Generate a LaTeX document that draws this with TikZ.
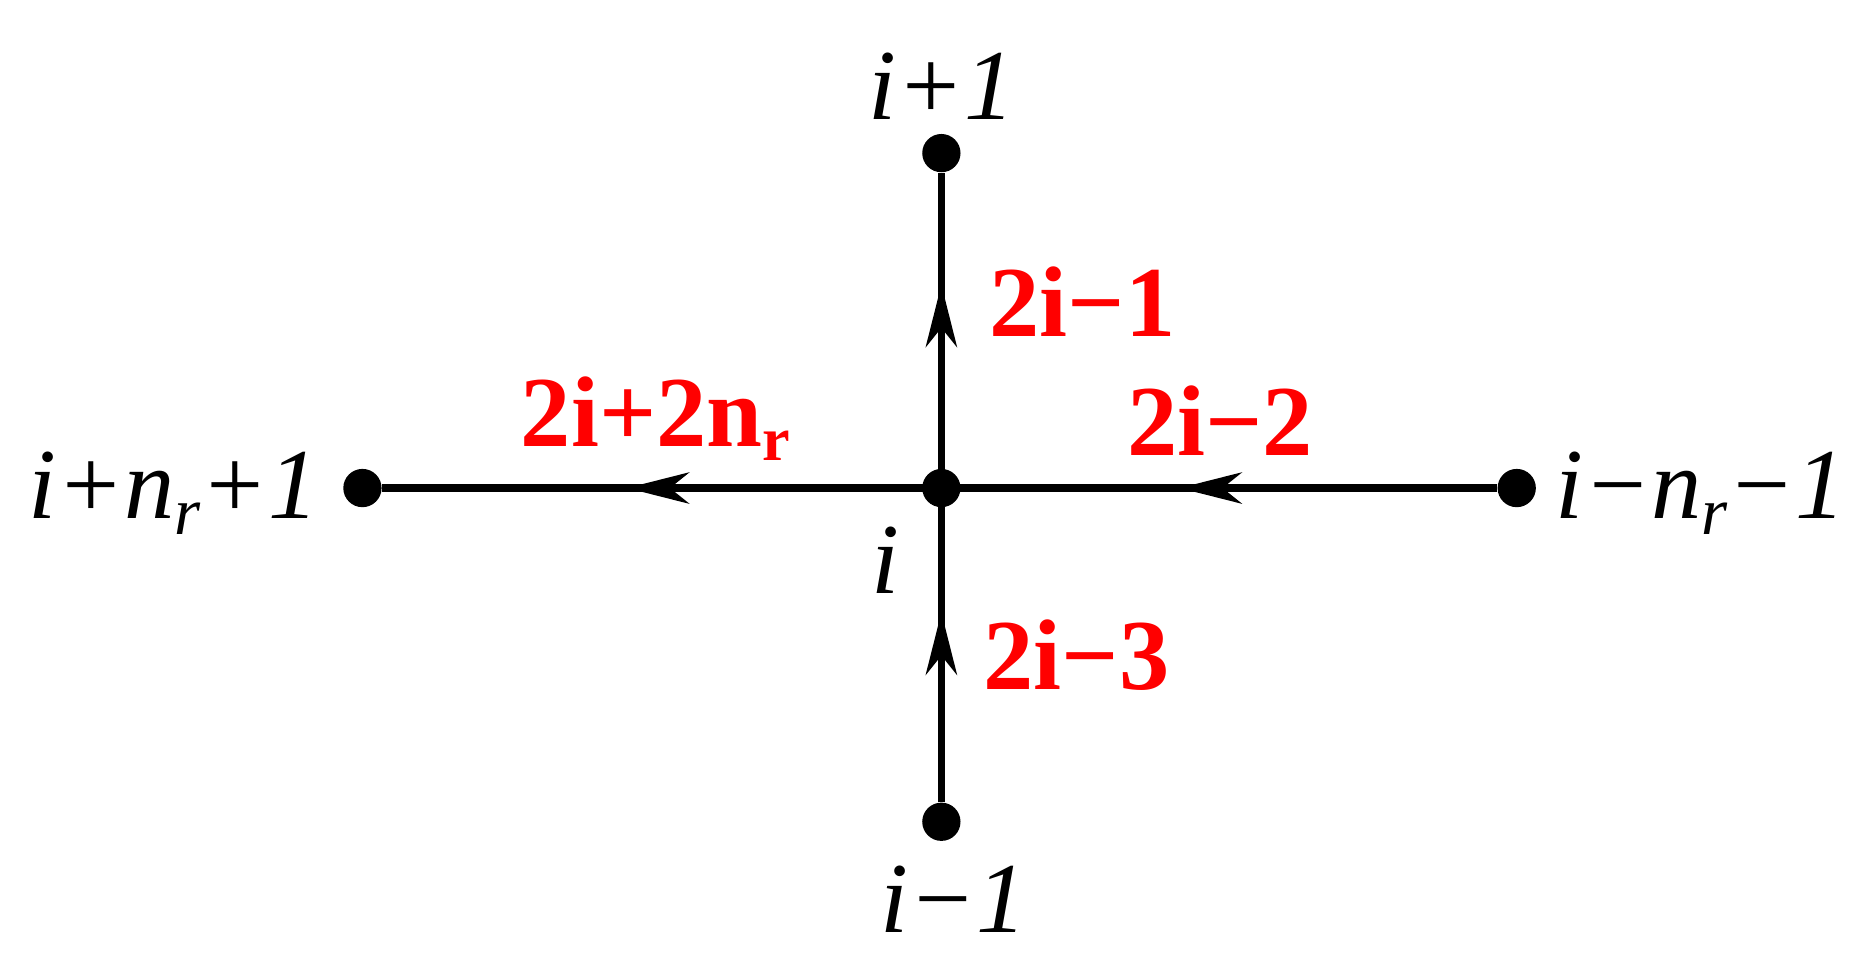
\documentclass[tikz,border=0pt]{standalone}
\usepackage{fontspec}
\setmainfont{Liberation Serif}
\usetikzlibrary{arrows.meta}
\begin{document}
\begin{tikzpicture}[x=0.5pt,y=-0.5pt,
  dot/.style={circle,fill=black,inner sep=0pt,minimum size=16pt},
  lab/.style={font=\fontsize{42}{42}\selectfont\itshape,inner sep=0pt},
  red/.style={text=red,font=\fontsize{42}{42}\selectfont\bfseries,inner sep=0pt},
  edge/.style={line width=3.2pt},
  tip/.style={line width=3.2pt,-{Stealth[length=26pt,width=13pt,inset=8pt]}}]
\useasboundingbox (0,0) rectangle (1560,800);
\node[dot] (c) at (787,408) {};
\node[dot] (t) at (787,128) {};
\node[dot] (b) at (787,687) {};
\node[dot] (l) at (303,408) {};
\node[dot] (r) at (1268,408) {};
\draw[edge] (t) -- (b);
\draw[edge] (l) -- (r);
\coordinate (a1s) at (787,300); \coordinate (a1e) at (787,238);
\coordinate (a2s) at (787,570); \coordinate (a2e) at (787,512);
\coordinate (a3s) at (590,408); \coordinate (a3e) at (524,408);
\coordinate (a4s) at (1050,408); \coordinate (a4e) at (986,408);
\draw[tip] (a1s) -- (a1e);
\draw[tip] (a2s) -- (a2e);
\draw[tip] (a3s) -- (a3e);
\draw[tip] (a4s) -- (a4e);
\node[lab] (nt) at (787,72) {i+1};
\node[lab] (nb) at (797,752) {i−1};
\node[lab] (nl) at (145,412) {i+n\raisebox{-0.35ex}{\fontsize{28}{28}\selectfont r}+1};
\node[lab] (nr) at (1422,412) {i−n\raisebox{-0.35ex}{\fontsize{28}{28}\selectfont r}−1};
\node[lab] (nc) at (740,468) {i};
\node[red] (e1) at (905,252) {2i−1};
\node[red] (e2) at (548,350) {2i+2n\raisebox{-0.3ex}{\fontsize{26}{26}\selectfont r}};
\node[red] (e3) at (1020,352) {2i−2};
\node[red] (e4) at (900,548) {2i−3};
\end{tikzpicture}
\end{document}
